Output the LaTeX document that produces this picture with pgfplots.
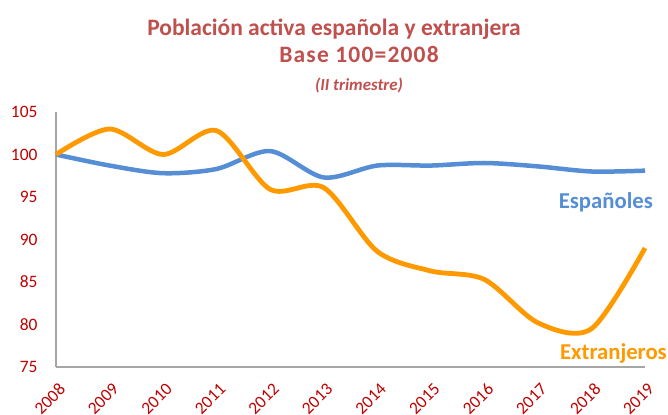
\documentclass[border=0pt]{standalone}
\usepackage{pgfplots}
\pgfplotsset{compat=1.18}
\usepackage{fontspec}
\setmainfont{Carlito}
\definecolor{titred}{RGB}{192,80,77}
\definecolor{tickred}{RGB}{192,0,0}
\definecolor{esp}{RGB}{85,142,213}
\definecolor{ext}{RGB}{255,153,0}
\definecolor{axgray}{RGB}{166,166,166}
\begin{document}
\begin{tikzpicture}
\begin{axis}[
  scale only axis,
  width=589bp, height=255bp,
  xmin=2008, xmax=2019, ymin=75, ymax=105,
  xtick={2008,...,2019}, ytick={75,80,...,105},
  axis x line=bottom, axis y line=left,
  axis line style={-, draw=axgray, line width=1.5bp},
  major tick length=0pt,
  /pgf/number format/1000 sep={},
  /pgf/number format/assume math mode=true,
  ticklabel style={font=\fontsize{17.5}{20}\selectfont, text=tickred},
  xticklabel style={rotate=45, anchor=north east, inner sep=0pt, xshift=-9.2bp, yshift=-12bp},
  yticklabel style={xshift=-15bp},
  clip=false,
]
\coordinate (O) at (rel axis cs:0,0);
\addplot[esp, line width=4.5bp, smooth, tension=0.5] coordinates {
(2008,100) (2009,98.7) (2010,97.8) (2011,98.3) (2012,100.4) (2013,97.3)
(2014,98.7) (2015,98.7) (2016,99.0) (2017,98.6) (2018,98.0) (2019,98.1)};
\addplot[ext, line width=4.8bp, smooth, tension=0.5] coordinates {
(2008,100) (2009,103.0) (2010,100.0) (2011,102.8) (2012,95.9) (2013,96.1)
(2014,88.6) (2015,86.3) (2016,85.3) (2017,80.2) (2018,79.5) (2019,89.0)};
\end{axis}
\node[anchor=base, text=titred, font=\fontsize{23.6}{26}\selectfont\bfseries] at ([shift={(278bp,331bp)}]O) {Población activa española y extranjera};
\node[anchor=base, text=titred, font=\fontsize{23.6}{26}\selectfont\bfseries\addfontfeature{LetterSpace=5}] at ([shift={(303bp,304bp)}]O) {Base 100=2008};
\node[anchor=base, text=titred, font=\fontsize{17}{20}\selectfont\bfseries\itshape] at ([shift={(303bp,276bp)}]O) {(II trimestre)};
\node[anchor=base east, text=esp, font=\fontsize{22.8}{26}\selectfont\bfseries, inner sep=0pt] at ([shift={(597bp,158bp)}]O) {Españoles};
\node[anchor=base east, text=ext, font=\fontsize{22.8}{26}\selectfont\bfseries, inner sep=0pt] at ([shift={(611bp,8bp)}]O) {Extranjeros};
\pgfresetboundingbox
\path ([shift={(-56bp,-48bp)}]O) rectangle ++(668bp,415bp);
\end{tikzpicture}
\end{document}
